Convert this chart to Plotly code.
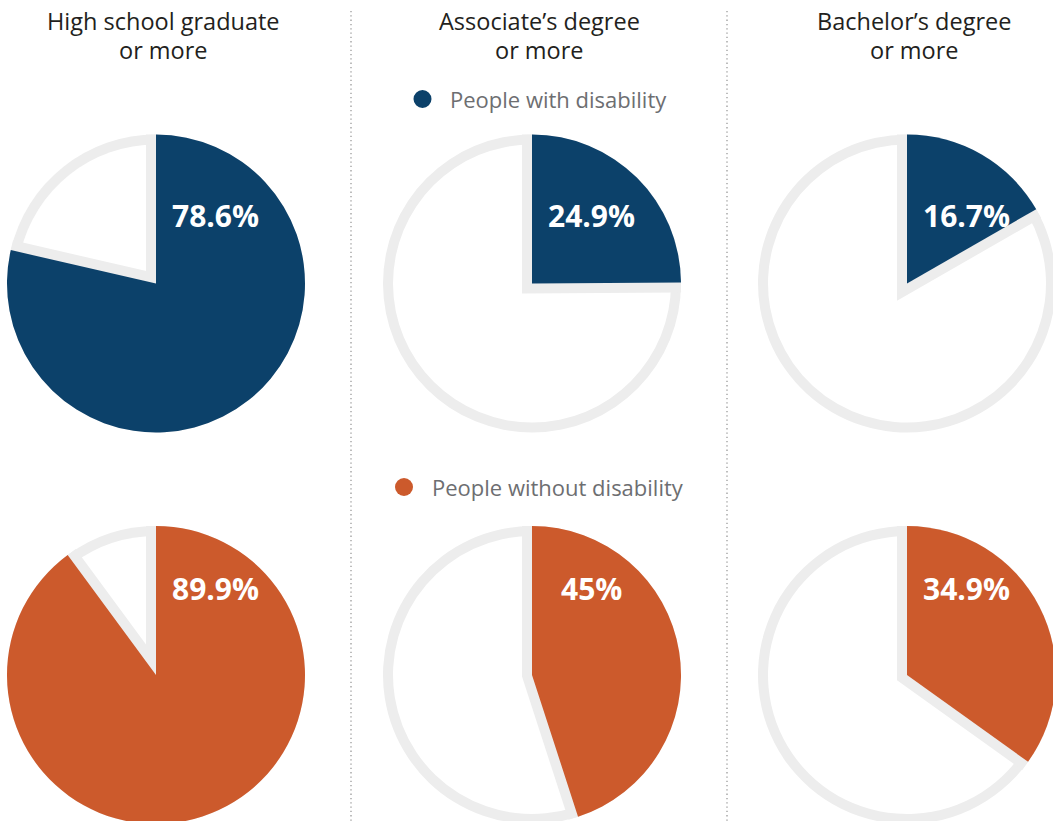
import plotly.graph_objects as go

# ---- data ----
categories = ["High school graduate<br>or more", "Associate\u2019s degree<br>or more", "Bachelor\u2019s degree<br>or more"]
series_names = ["People with disability", "People without disability"]
with_disability = [78.6, 24.9, 16.7]
without_disability = [89.9, 45, 34.9]

# ---- styling / layout constants ----
W, H = 1060, 830
BLUE = "#0c416a"
ORANGE = "#cc5a2c"
GRAY = "#ededed"
CLEAR = "rgba(0,0,0,0)"
COL_X = [156, 532, 907]
ROW_Y = [283.5, 675]
LABEL_Y = [215, 588]
R = 149
INSET = 10
FONT = "Open Sans"


def px(x):
    return x / W


def py(y):
    return 1 - y / H


def domain(cx, cy, r):
    return dict(x=[px(cx - r), px(cx + r)], y=[py(cy + r), py(cy - r)])


fig = go.Figure()
series = [with_disability, without_disability]
colors = [BLUE, ORANGE]

for ri, vals in enumerate(series):
    for ci, v in enumerate(vals):
        cx, cy = COL_X[ci], ROW_Y[ri]
        values = [v, 100 - v]
        common = dict(values=values, labels=["a", "b"], sort=False, direction="clockwise",
                      rotation=0, textinfo="none", hoverinfo="skip", showlegend=False)
        # L1: gray remainder slice, full radius
        fig.add_trace(go.Pie(**common, domain=domain(cx, cy, R),
                             marker=dict(colors=[CLEAR, GRAY], line=dict(width=0))))
        # L2: white remainder slice, inset radius
        fig.add_trace(go.Pie(**common, domain=domain(cx, cy, R - INSET),
                             marker=dict(colors=[CLEAR, "white"], line=dict(width=0))))
        # L3: gray stroke around the value slice (gives inset edges)
        fig.add_trace(go.Pie(**common, domain=domain(cx, cy, R - INSET),
                             marker=dict(colors=[CLEAR, CLEAR],
                                         line=dict(color=[GRAY, CLEAR], width=[2 * INSET, 0]))))
        # L4: value slice
        fig.add_trace(go.Pie(**common, domain=domain(cx, cy, R),
                             marker=dict(colors=[colors[ri], CLEAR], line=dict(width=0))))
        fig.add_annotation(x=px(cx + 59), y=py(LABEL_Y[ri]), xref="paper", yref="paper",
                           text=f"{v:g}%", showarrow=False, xanchor="center", yanchor="middle",
                           font=dict(family=FONT, size=30, color="white", weight="bold"))

# titles
TITLE_X = [163, 539, 914]
for ci, cat in enumerate(categories):
    lines = cat.split("<br>")
    for li, line in enumerate(lines):
        fig.add_annotation(x=px(TITLE_X[ci]), y=py(21 + 29 * li), xref="paper", yref="paper",
                           text=line, showarrow=False, xanchor="center", yanchor="middle",
                           font=dict(family=FONT, size=23.5, color="#231f20"))

# legends
LEG = [(422.5, 99, 448), (404, 487, 430)]
for i, (mx, my, tx) in enumerate(LEG):
    fig.add_shape(type="circle", xref="paper", yref="paper",
                  x0=px(mx - 9), x1=px(mx + 9), y0=py(my + 9), y1=py(my - 9),
                  fillcolor=colors[i], line=dict(width=0))
    fig.add_annotation(x=px(tx), y=py(my), xref="paper", yref="paper", text=series_names[i],
                       showarrow=False, xanchor="left", yanchor="middle",
                       font=dict(family=FONT, size=22, color="#6d6e71"))

# dotted dividers
for dx in [351, 727]:
    fig.add_shape(type="line", xref="paper", yref="paper", x0=px(dx), x1=px(dx),
                  y0=py(11), y1=py(H), line=dict(color="#9a9a9a", width=1.3, dash="1.3px,3px"))

fig.update_layout(width=W, height=H, margin=dict(l=0, r=0, t=0, b=0),
                  paper_bgcolor="white", plot_bgcolor="white")

post = ("document.body.style.margin='0';document.body.style.overflow='hidden';"
        "document.documentElement.style.overflow='hidden';"
        "document.querySelectorAll('path.surface').forEach(function(p){p.style.strokeLinejoin='miter';p.style.strokeMiterlimit='10';});")
fig.write_html("out.html", config={"displayModeBar": False}, post_script=post)
